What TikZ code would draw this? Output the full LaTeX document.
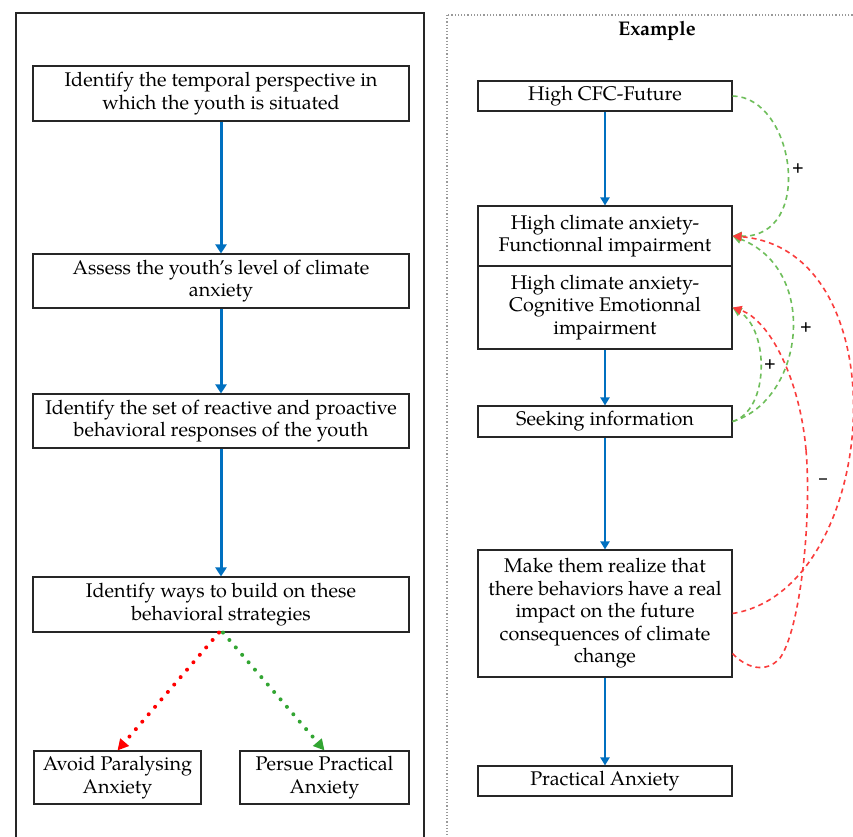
\documentclass[tikz,border=0pt]{standalone}
\usepackage{fontspec}
\setmainfont{texgyrepagella}[Extension=.otf, UprightFont=*-regular, BoldFont=*-bold, ItalicFont=*-italic, BoldItalicFont=*-bolditalic]
\usetikzlibrary{arrows.meta}
\definecolor{fblue}{RGB}{0,112,192}
\definecolor{dgreen}{RGB}{110,190,90}
\definecolor{tgreen}{RGB}{50,165,50}
\definecolor{dred}{RGB}{250,60,60}
\tikzset{
  stepbox/.style={draw=black!85, line width=1.1pt, inner sep=0pt, align=center, font=\fontsize{19.8}{22.5}\selectfont},
  flow/.style={draw=fblue, line width=3pt, -{Triangle[length=9pt,width=11pt]}},
  flowr/.style={draw=fblue, line width=2pt, -{Triangle[length=8pt,width=9pt]}},
  gdash/.style={draw=dgreen, line width=1.6pt, dash pattern=on 5pt off 4pt, -{Triangle[length=9pt,width=9pt]}},
  rdash/.style={draw=dred, line width=1.6pt, dash pattern=on 5pt off 4pt, -{Triangle[length=9pt,width=9pt]}},
  rnotip/.style={draw=dred, line width=1.6pt, dash pattern=on 5pt off 4pt},
  dotarrow/.style={line width=4pt, line cap=round, dash pattern=on 0pt off 9.8pt},
  sign/.style={font=\fontsize{16}{16}\selectfont\bfseries, inner sep=0pt}
}
\begin{document}
\begin{tikzpicture}[x=1pt,y=-1pt]
\useasboundingbox (0,0) rectangle (853,836);
\clip (0,0) rectangle (853,836);
\fill[white] (0,0) rectangle (853,836);
% panels
\draw[black!85, line width=1.2pt] (16,13) rectangle (424,860);
\draw[black!40, line width=1.2pt, dotted] (447,15) rectangle (880,860);
\node[font=\fontsize{19.8}{22}\selectfont\bfseries] (ex) at (657,31) {Example};
% left column
\node[stepbox, minimum width=376pt, minimum height=55pt] (b1) at (221,93.5) {Identify the temporal perspective in\\which the youth is situated};
\node[stepbox, minimum width=376pt, minimum height=54pt] (b2) at (221,281) {Assess the youth's level of climate\\anxiety};
\node[stepbox, minimum width=376pt, minimum height=54pt] (b3) at (221,421) {Identify the set of reactive and proactive\\behavioral responses of the youth};
\node[stepbox, minimum width=376pt, minimum height=55pt] (b4) at (221,604.5) {Identify ways to build on these\\behavioral strategies};
\node[stepbox, minimum width=167pt, minimum height=53pt] (b5) at (117.5,777.5) {Avoid Paralysing\\Anxiety};
\node[stepbox, minimum width=169pt, minimum height=53pt] (b6) at (324.5,777.5) {Persue Practical\\Anxiety};
\draw[flow] (b1) -- (b2);
\draw[flow] (b2) -- (b3);
\draw[flow] (b3) -- (b4);
\draw[dotarrow, draw=red, -{Triangle[length=11pt,width=11pt]}] ([xshift=-2pt]b4.south) -- (b5.north);
\draw[dotarrow, draw=tgreen, -{Triangle[length=11pt,width=11pt]}] ([xshift=2pt]b4.south) -- (b6.north);
% right column
\node[stepbox, minimum width=254pt, minimum height=30pt] (cfc) at (605,96) {High CFC-Future};
\node[stepbox, minimum width=254pt, minimum height=60pt] (fun) at (605,236) {High climate anxiety-\\Functionnal impairment};
\node[stepbox, minimum width=254pt, minimum height=83pt] (cog) at (605,307.5) {High climate anxiety-\\Cognitive Emotionnal\\impairment};
\node[stepbox, minimum width=254pt, minimum height=31pt] (seek) at (605,421.5) {Seeking information};
\node[stepbox, minimum width=254pt, minimum height=127pt] (make) at (605,613.5) {Make them realize that\\there behaviors have a real\\impact on the future\\consequences of climate\\change};
\node[stepbox, minimum width=254pt, minimum height=30pt] (prac) at (605,781) {Practical Anxiety};
\draw[flowr] (cfc) -- (fun);
\draw[flowr] (cog) -- (seek);
\draw[flowr] (seek) -- (make);
\draw[flowr] (make) -- (prac);
% feedback loops
\draw[gdash] (cfc.east) .. controls (795,97) and (815,238) .. (fun.east);
\draw[gdash] (seek.east) .. controls (804,400) and (820,270) .. (fun.east);
\draw[gdash] (seek.east) .. controls (770,410) and (769,330) .. (cog.east);
\coordinate (r2s) at ([yshift=-40pt]make.east);
\coordinate (r2a) at (780,658);
\coordinate (r2b) at (806,450);
\draw[rdash] (make.east) .. controls (880,590) and (904,250) .. (fun.east);
\draw[rnotip] (r2s) .. controls (746,668) and (766,674) .. (r2a) .. controls (800,630) and (812,520) .. (r2b);
\draw[rdash] (r2b) .. controls (800,380) and (770,320) .. (cog.east);
\node[sign] (p1) at (798,168) {+};
\node[sign] (p2) at (806,327) {+};
\node[sign] (p3) at (770,364) {+};
\node[sign] (m1) at (823,481) {--};
\end{tikzpicture}
\end{document}
